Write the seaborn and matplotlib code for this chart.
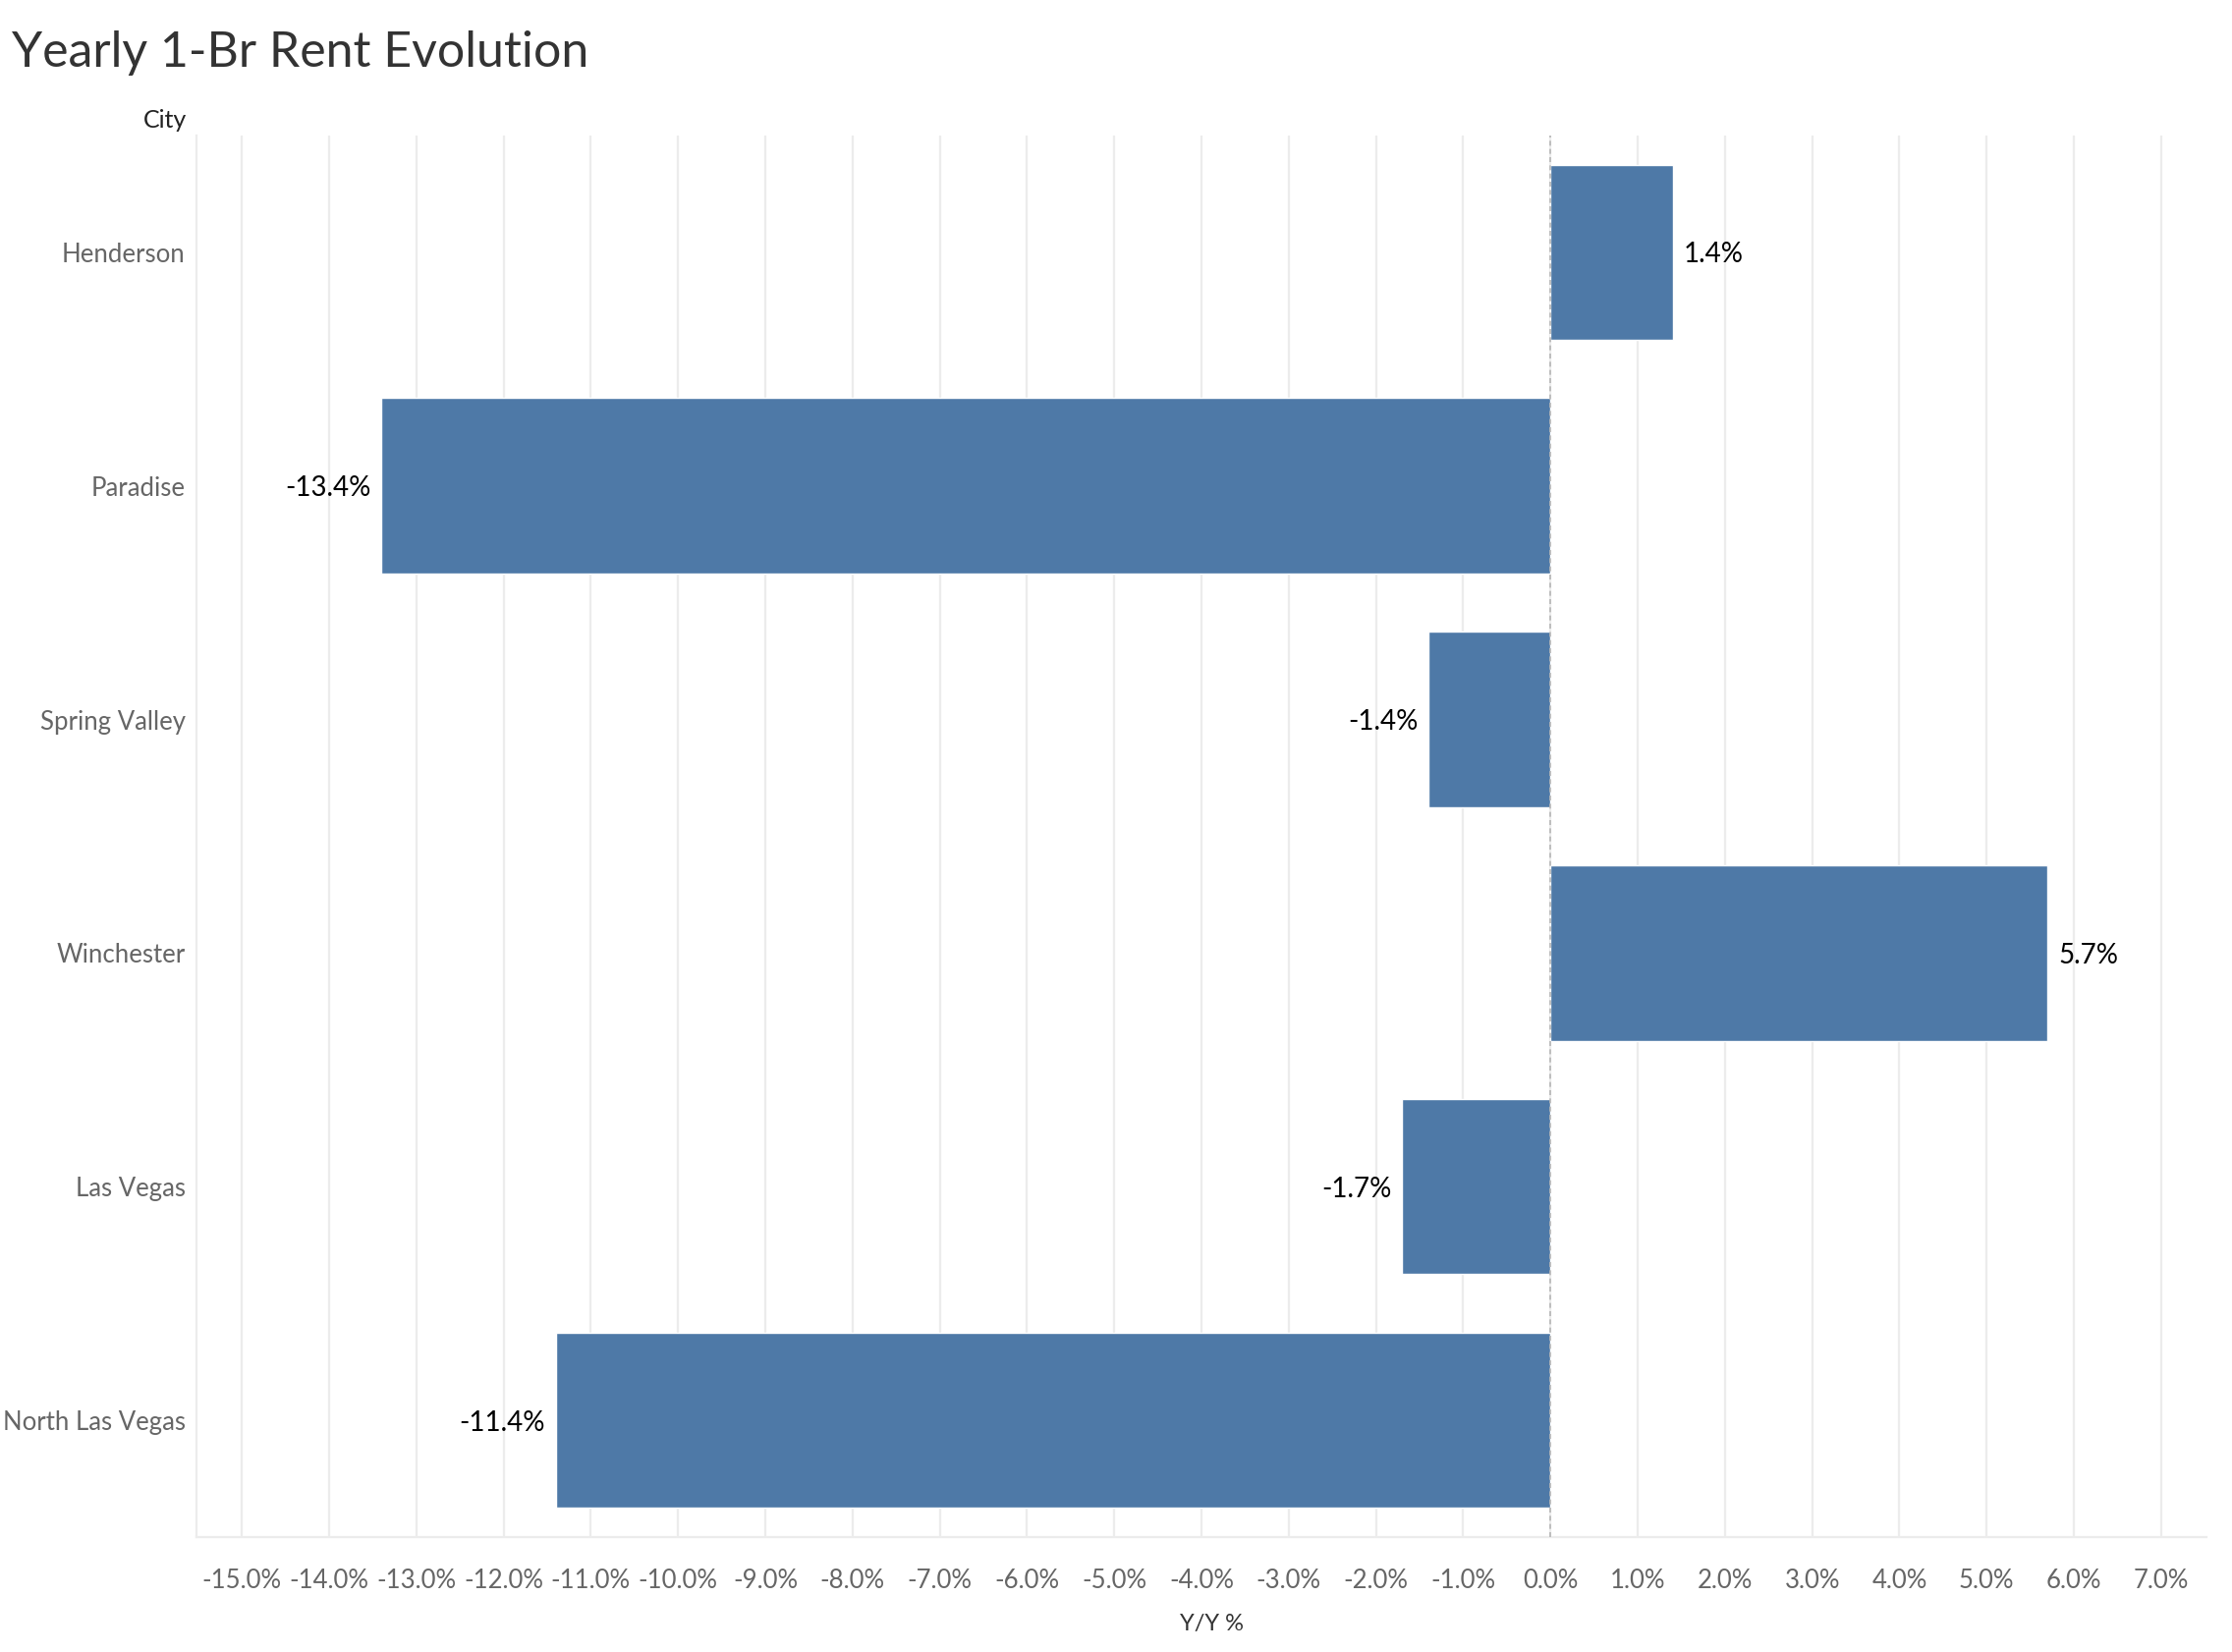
import matplotlib
matplotlib.use("Agg")
import matplotlib.pyplot as plt
import pandas as pd
import seaborn as sns
from matplotlib.ticker import FuncFormatter, MultipleLocator

# data
cities = ["Henderson", "Paradise", "Spring Valley", "Winchester", "Las Vegas", "North Las Vegas"]
yoy_pct = [1.4, -13.4, -1.4, 5.7, -1.7, -11.4]

BAR_COLOR = "#4e79a7"
GRID_COLOR = "#ececec"
TICK_TEXT = "#666666"

df = pd.DataFrame({"City": cities, "Y/Y %": yoy_pct})

sns.set_theme(style="white")
plt.rcParams["font.family"] = ["Lato", "DejaVu Sans"]

fig = plt.figure(figsize=(22.72, 16.82), dpi=100)
ax = fig.add_axes([0.088, 0.0696, 0.9006, 0.8484])

sns.barplot(
    data=df,
    x="Y/Y %",
    y="City",
    order=cities,
    color=BAR_COLOR,
    saturation=1,
    width=0.75,
    orient="h",
    ax=ax,
    zorder=3,
)

ax.set_xlim(-15.52, 7.52)
ax.set_ylim(5.5, -0.5)
ax.xaxis.set_major_locator(MultipleLocator(1))
ax.xaxis.set_major_formatter(FuncFormatter(lambda v, _: f"{v:.1f}%"))
ax.grid(axis="x", color=GRID_COLOR, linewidth=1.6, zorder=0)
ax.grid(axis="y", visible=False)
ax.axvline(0, color="#b5b5b5", linestyle=(0, (3, 2)), linewidth=1.2, zorder=4)

for side in ["top", "right"]:
    ax.spines[side].set_visible(False)
for side in ["left", "bottom"]:
    ax.spines[side].set_color(GRID_COLOR)
    ax.spines[side].set_linewidth(1.6)

ax.tick_params(axis="x", colors=GRID_COLOR, length=14, width=1.6, pad=9,
               labelcolor=TICK_TEXT, labelsize=18.5)
ax.tick_params(axis="y", length=0, pad=8, labelcolor=TICK_TEXT, labelsize=18.5)
for lbl in ax.get_yticklabels():
    lbl.set_va("center_baseline")

ax.set_ylabel("")
ax.set_xlabel("Y/Y %", fontsize=17, color="#333333", labelpad=16)
ax.xaxis.set_label_coords(0.505, -0.055)

for i, val in enumerate(yoy_pct):
    offset = 0.12 if val >= 0 else -0.12
    ax.text(val + offset, i, f"{val:.1f}%", ha="left" if val >= 0 else "right",
            va="center_baseline", fontsize=20, color="black", zorder=5)

fig.text(0.0053, 0.968, "Yearly 1-Br Rent Evolution", fontsize=36, color="#333333",
         ha="left", va="center")
fig.text(190 / 2272, 1 - 122 / 1682, "City", fontsize=18, color="#222222",
         ha="right", va="center")

fig.savefig("out.png", dpi=100, facecolor="white")
